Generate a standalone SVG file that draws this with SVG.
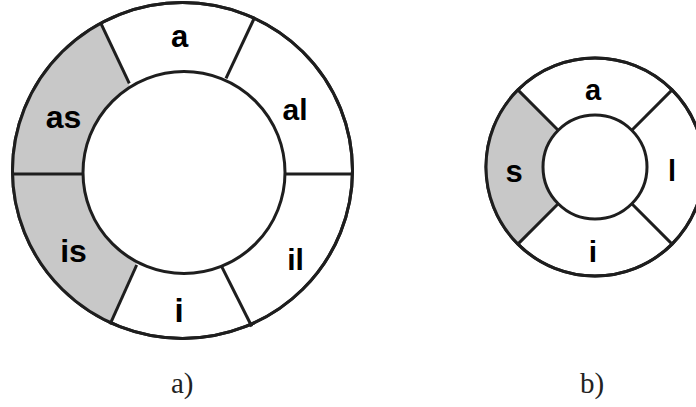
<svg xmlns="http://www.w3.org/2000/svg" width="696" height="407" viewBox="0 0 696 407">
<defs>
<style>
.ring{fill:#ffffff;stroke:#1e1e1e;stroke-width:3}
.inner{fill:#ffffff;stroke:#1e1e1e;stroke-width:3}
.div{stroke:#1e1e1e;stroke-width:3;stroke-linecap:butt;fill:none}
.gray{fill:#c8c8c8;stroke:none}
.lbl{font-family:"Liberation Sans",Arial,sans-serif;font-weight:bold;fill:#000;text-anchor:middle}
.cap{font-family:"Liberation Serif","Times New Roman",serif;font-size:29px;fill:#222}
</style>
<clipPath id="clipA"><ellipse cx="182.5" cy="170.5" rx="170" ry="168"/></clipPath>
<clipPath id="clipB"><circle cx="595" cy="167" r="109"/></clipPath>
</defs>
<rect width="696" height="407" fill="#ffffff"/>

<g id="ringA">
<ellipse class="ring" cx="182.5" cy="170.5" rx="170" ry="168"/>
<polygon class="gray" clip-path="url(#clipA)" points="129.3,83.3 89.9,0 0,0 0,350 98.4,350 136.7,265"/>
<ellipse class="ring" cx="182.5" cy="170.5" rx="170" ry="168" style="fill:none"/>
<circle class="inner" cx="184" cy="172.5" r="101"/>
</g>

<g id="ringB">
<circle class="ring" cx="595" cy="167" r="109"/>
<polygon class="gray" clip-path="url(#clipB)" points="595,167 475,47 475,287"/>
<circle class="ring" cx="595" cy="167" r="109" style="fill:none"/>
<circle class="inner" cx="595" cy="167" r="52"/>
</g>

<g id="connectors">
<line class="div" x1="129.3" y1="83.3" x2="100.9" y2="23.3"/>
<line class="div" x1="226" y1="78.3" x2="254.1" y2="18.5"/>
<line class="div" x1="12" y1="174" x2="83" y2="174"/>
<line class="div" x1="285" y1="174" x2="353" y2="174"/>
<line class="div" x1="136.7" y1="265" x2="110" y2="324.3"/>
<line class="div" x1="221.7" y1="266.7" x2="251.8" y2="326.5"/>

<line class="div" x1="558.2" y1="130.2" x2="517.9" y2="89.9"/>
<line class="div" x1="631.8" y1="130.2" x2="672.1" y2="89.9"/>
<line class="div" x1="558.2" y1="203.8" x2="517.9" y2="244.1"/>
<line class="div" x1="631.8" y1="203.8" x2="672.1" y2="244.1"/>
</g>

<g id="labelsA">
<text class="lbl" x="179.5" y="47" font-size="31">a</text>
<text class="lbl" x="295" y="119.5" font-size="30">al</text>
<text class="lbl" x="63.5" y="128" font-size="32">as</text>
<text class="lbl" x="73.5" y="261.5" font-size="32">is</text>
<text class="lbl" x="295.5" y="269.5" font-size="30">il</text>
<text class="lbl" x="179" y="321.5" font-size="33">i</text>
</g>

<g id="labelsB">
<text class="lbl" x="593" y="100" font-size="29">a</text>
<text class="lbl" x="514" y="181.5" font-size="31">s</text>
<text class="lbl" x="672" y="180.5" font-size="29">l</text>
<text class="lbl" x="593" y="261.5" font-size="30">i</text>
</g>

<g id="captions">
<text class="cap" x="171" y="393">a)</text>
<text class="cap" x="580" y="393">b)</text>
</g>
</svg>
